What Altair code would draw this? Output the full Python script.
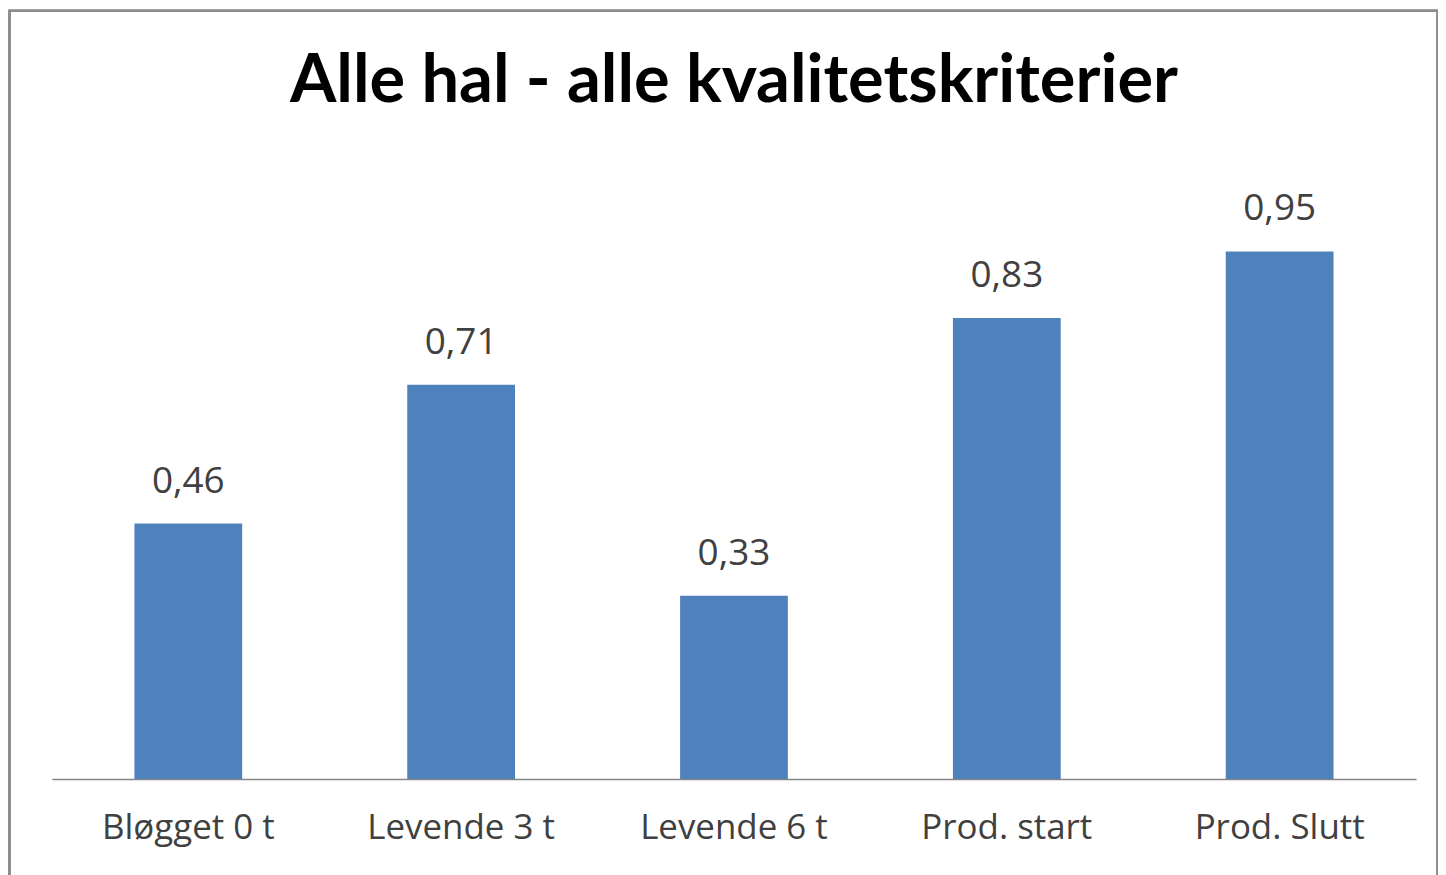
import altair as alt
import pandas as pd

categories = ["Bløgget 0 t", "Levende 3 t", "Levende 6 t", "Prod. start", "Prod. Slutt"]
values = [0.46, 0.71, 0.33, 0.83, 0.95]

df = pd.DataFrame({
    "kategori": categories,
    "verdi": values,
    "etikett": [f"{v:.2f}".replace(".", ",") for v in values],
})

FONT = "Open Sans"
TITLE_FONT = "Lato"
BAR = "#4F81BD"

x = alt.X("kategori:N", sort=categories, title=None,
          scale=alt.Scale(paddingInner=0.605, paddingOuter=0.3025),
          axis=alt.Axis(labelAngle=0, ticks=False, domainColor="#868686", domainWidth=1.5,
                        labelFont=FONT, labelFontSize=35, labelColor="#404040",
                        labelPadding=32, labelBaseline="top", labelLimit=0))
y = alt.Y("verdi:Q", title=None, scale=alt.Scale(domain=[0, 1], nice=False),
          axis=None)

bars = alt.Chart(df).mark_bar(color=BAR).encode(x=x, y=y)
labels = alt.Chart(df).mark_text(baseline="alphabetic", dy=-31, font=FONT, fontSize=37,
                                 color="#404040").encode(x=x, y=y, text="etikett:N")

frame = alt.Chart(df).mark_rect(fill=None, stroke="#8c8c8c", strokeWidth=2, clip=False).encode(
    x=alt.value(-42.5), x2=alt.value(1389.5), y=alt.value(-213.5), y2=alt.value(680))

chart = alt.layer(frame, bars, labels).properties(
    width=1368, height=557,
    title=alt.TitleParams("Alle hal - alle kvalitetskriterier", font=TITLE_FONT, fontSize=67,
                          fontWeight="bold", color="#000000", anchor="middle",
                          frame="group", baseline="alphabetic", offset=-160),
    autosize=alt.AutoSizeParams(type="none"),
    padding={"left": 44, "top": 215, "right": 22, "bottom": 95},
).configure(background="white").configure_view(strokeWidth=0)

chart.save("out.html", embed_options={"renderer": "svg", "actions": False})
